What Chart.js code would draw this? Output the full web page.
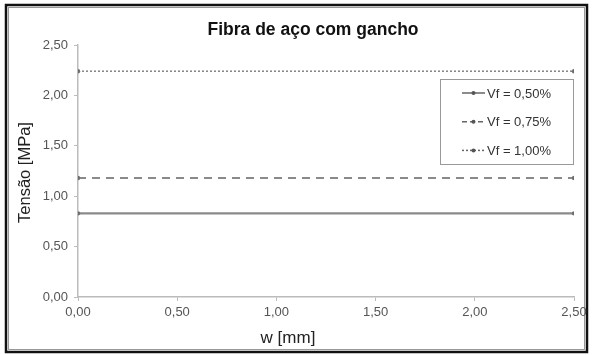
<!DOCTYPE html>
<html><head><meta charset="utf-8">
<script src="https://cdn.jsdelivr.net/npm/chart.js@4/dist/chart.umd.min.js"></script>
<style>html,body{margin:0;padding:0;background:#fff}#wrap{width:592px;height:355px;position:relative}</style>
</head><body><div id="wrap"><canvas id="c" width="592" height="355"></canvas></div>
<script>
const chartTitle = 'Fibra de aço com gancho';
const xTitle = 'w [mm]';
const yTitle = 'Tensão [MPa]';
const wValues = [0.0, 2.5];
const seriesLabels = ['Vf = 0,50%', 'Vf = 0,75%', 'Vf = 1,00%'];
const vf050 = [0.83, 0.83];
const vf075 = [1.18, 1.18];
const vf100 = [2.24, 2.24];
const dashes = [[], [8, 6], [2, 2]];
const widths = [2.4, 2, 1.6];

const FONT = '"Liberation Sans", Arial, sans-serif';
const seriesValues = [vf050, vf075, vf100];
const datasets = seriesValues.map((vals, i) => ({
  label: seriesLabels[i],
  data: vals.map((v, j) => ({x: wValues[j], y: v})),
  borderColor: '#8a8a8a',
  backgroundColor: '#6e6e6e',
  borderWidth: widths[i],
  borderDash: dashes[i],
  pointRadius: 2.2,
  pointBorderWidth: 0,
  showLine: true,
  tension: 0
}));

const fmt = v => Number(v).toFixed(2).replace('.', ',');

const framePlugin = {
  id: 'frame',
  beforeDraw(chart) {
    const ctx = chart.ctx;
    ctx.save();
    ctx.fillStyle = '#fff';
    ctx.fillRect(0, 0, chart.width, chart.height);
    ctx.strokeStyle = '#111';
    ctx.lineWidth = 2.5;
    ctx.strokeRect(6, 5, 581, 347);
    ctx.strokeStyle = '#999';
    ctx.lineWidth = 1;
    ctx.strokeRect(8.5, 7.5, 576, 342);
    ctx.restore();
  }
};

const textPlugin = {
  id: 'texts',
  afterDraw(chart) {
    const ctx = chart.ctx;
    ctx.save();
    ctx.textAlign = 'center';
    ctx.fillStyle = '#111';
    ctx.font = 'bold 17.5px ' + FONT;
    ctx.textBaseline = 'alphabetic';
    ctx.fillText(chartTitle, 313, 35);
    ctx.fillStyle = '#222';
    ctx.font = '17px ' + FONT;
    ctx.textBaseline = 'middle';
    ctx.fillText(xTitle, 288, 338);
    ctx.translate(25, 172.5);
    ctx.rotate(-Math.PI / 2);
    ctx.font = '16.5px ' + FONT;
    ctx.fillText(yTitle, 0, 0);
    ctx.restore();
  }
};

const legendPlugin = {
  id: 'boxLegend',
  afterDatasetsDraw(chart) {
    const ctx = chart.ctx;
    ctx.save();
    const bx = 440.5, by = 79.5, bw = 133, bh = 85;
    ctx.strokeStyle = '#999';
    ctx.lineWidth = 1;
    ctx.fillStyle = '#fff';
    ctx.fillRect(bx, by, bw, bh);
    ctx.strokeRect(bx, by, bw, bh);
    chart.data.datasets.forEach((ds, i) => {
      const y = 93 + i * 28.7;
      ctx.strokeStyle = '#666';
      ctx.lineWidth = 1.5;
      ctx.setLineDash(ds.borderDash.length ? (i === 2 ? [2, 2] : [5, 3]) : []);
      ctx.beginPath();
      ctx.moveTo(462, y);
      ctx.lineTo(485, y);
      ctx.stroke();
      ctx.setLineDash([]);
      ctx.fillStyle = '#555';
      ctx.beginPath();
      ctx.arc(473.5, y, 2, 0, Math.PI * 2);
      ctx.fill();
      ctx.fillStyle = '#333';
      ctx.font = '13px ' + FONT;
      ctx.textBaseline = 'middle';
      ctx.textAlign = 'left';
      ctx.fillText(ds.label, 487, y + 1);
    });
    ctx.restore();
  }
};

new Chart(document.getElementById('c'), {
  type: 'scatter',
  data: { datasets },
  options: {
    responsive: false,
    animation: false,
    layout: { padding: { left: 8, right: 18, top: 45, bottom: 8 } },
    plugins: {
      legend: { display: false },
      tooltip: { enabled: false },
      title: { display: false }
    },
    scales: {
      x: {
        type: 'linear',
        min: 0, max: 2.5,
        afterFit(s) { s.height = 50; },
        ticks: { stepSize: 0.5, callback: fmt, color: '#555', padding: 4,
          font: { family: FONT, size: 13 } },
        grid: { drawOnChartArea: false, color: '#bbb', tickLength: 4, tickColor: '#bbb' },
        border: { color: '#bbb', width: 1.5 },
        title: { display: false }
      },
      y: {
        type: 'linear',
        min: 0, max: 2.5,
        afterFit(s) { s.width = 70; },
        ticks: { stepSize: 0.5, callback: fmt, color: '#555', padding: 6,
          font: { family: FONT, size: 13 } },
        grid: { drawOnChartArea: false, color: '#bbb', tickLength: 4, tickColor: '#bbb' },
        border: { color: '#bbb', width: 1.5 },
        title: { display: false }
      }
    }
  },
  plugins: [framePlugin, legendPlugin, textPlugin]
});
</script></body></html>
